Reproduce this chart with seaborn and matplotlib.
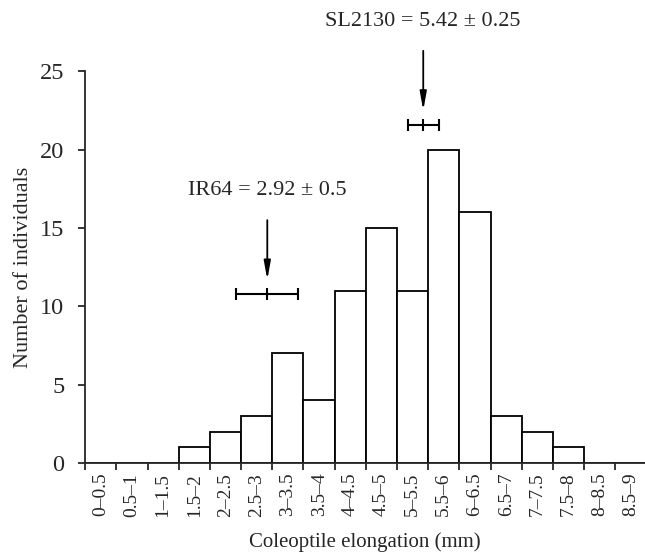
import numpy as np
import pandas as pd
import seaborn as sns
import matplotlib.pyplot as plt

sns.set_style('ticks')
plt.rcParams['font.family'] = ['Liberation Serif', 'DejaVu Serif']

# bins of coleoptile elongation (mm) and counts
bins = ['0–0.5', '0.5–1', '1–1.5', '1.5–2', '2–2.5', '2.5–3', '3–3.5', '3.5–4', '4–4.5',
        '4.5–5', '5–5.5', '5.5–6', '6–6.5', '6.5–7', '7–7.5', '7.5–8', '8–8.5', '8.5–9']
counts = [0, 0, 0, 1, 2, 3, 7, 4, 11, 15, 11, 20, 16, 3, 2, 1, 0, 0]

# parents: mean and sd (mm), height of the error bar (count units)
parents = ['IR64', 'SL2130']
means = [2.92, 5.42]
sds = [0.5, 0.25]
bar_y = [10.8, 21.6]

bin_w = 0.5
def pos(mm):
    # mm -> categorical position of the bar axis
    return mm / bin_w - 0.5

df = pd.DataFrame({'bin': bins, 'n': counts})

fig = plt.figure(figsize=(6.45, 5.52), dpi=100)
ax = fig.add_axes([0.132, 0.161, 0.868, 0.71])

sns.barplot(data=df, x='bin', y='n', color='white', edgecolor='black',
            linewidth=1.3, width=1, saturation=1, ax=ax)

# error bars + arrows + labels
for name, m, s, y in zip(parents, means, sds, bar_y):
    x = pos(m)
    ax.errorbar(x, y, xerr=s / bin_w, fmt='none', ecolor='black',
                elinewidth=1.5, capsize=4, capthick=1.5)
    ax.plot(x, y, marker='|', color='black', markersize=8, mew=1.5)
    ax.annotate('', xy=(x, y + 0.9), xytext=(x, y + 4.7),
                arrowprops=dict(arrowstyle='-|>,head_length=1.1,head_width=0.2',
                                color='black', lw=1.3, shrinkA=0, shrinkB=0),
                annotation_clip=False)
    ax.text(x, y + 6.6, '{} = {} ± {}'.format(name, m, s), ha='center', va='center',
            fontsize=16)

ax.set_xlim(-0.5, 17.45)
ax.set_ylim(0, 25)
ax.set_yticks(range(0, 26, 5))
ax.tick_params(axis='y', labelsize=17.5, length=5, width=1.3, direction='out', pad=10)

# ticks at bin edges, labels at bin centres
edges = np.arange(-0.5, 17.5, 1)
ax.set_xticks(edges)
ax.set_xticklabels([])
ax.set_xticks(np.arange(len(bins)), minor=True)
ax.set_xticklabels(bins, minor=True, rotation=90, fontsize=14)
ax.tick_params(axis='x', which='major', length=5, width=1.3, direction='out')
ax.tick_params(axis='x', which='minor', length=0, pad=7)

ax.set_xlabel('Coleoptile elongation (mm)', fontsize=15, labelpad=11)
ax.set_ylabel('Number of individuals', fontsize=16, labelpad=5)

sns.despine(ax=ax)
for sp in ['left', 'bottom']:
    ax.spines[sp].set_linewidth(1.3)

fig.savefig('out.png', dpi=100)
